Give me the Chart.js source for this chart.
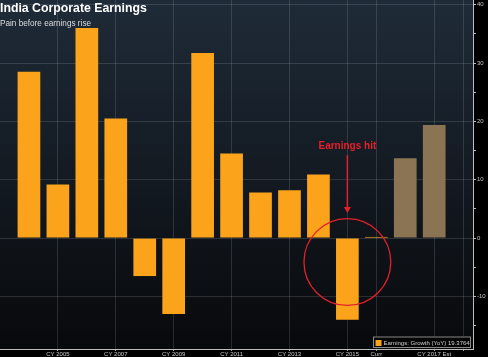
<!DOCTYPE html>
<html><head><meta charset="utf-8">
<script src="https://cdn.jsdelivr.net/npm/chart.js@4/dist/chart.umd.min.js"></script>
<style>
html,body{margin:0;padding:0;background:#000;}
#wrap{position:relative;width:488px;height:357px;overflow:hidden;}
canvas{display:block;}
#title{position:absolute;left:0;top:1px;font:bold 12.3px "Liberation Sans",Arial,sans-serif;color:#fff;white-space:nowrap;}
#sub{position:absolute;left:0;top:19px;font:8.2px "Liberation Sans",Arial,sans-serif;color:#ddd;white-space:nowrap;}
</style></head><body>
<div id="wrap"><canvas id="c" width="488" height="357"></canvas>
<div id="title">India Corporate Earnings</div><div id="sub">Pain before earnings rise</div></div>
<script>
const categories = ['CY 2004','CY 2005','CY 2006','CY 2007','CY 2008','CY 2009','CY 2010','CY 2011','CY 2012','CY 2013','CY 2014','CY 2015','Curr','CY 2016 Est','CY 2017 Est'];
const growth = [28.5, 9.2, 36.0, 20.5, -6.5, -13.0, 31.7, 14.5, 7.8, 8.2, 10.9, -14.0, 0.2, 13.7, 19.3764];
const seriesName = 'Earnings: Growth (YoY)';
const xTickPositions = [1, 3, 5, 7, 9, 11, 12, 14, 15];
const shownLabels = ['CY 2005','CY 2007','CY 2009','CY 2011','CY 2013','CY 2015','Curr','CY 2017 Est',''];
const yTickStep = 5;
const annotationText = 'Earnings hit';
const annotationIndex = 11;

const ORANGE = '#fba31b', TAN = '#8b7453';
const SMALL = '"Liberation Sans",Arial,sans-serif';

const bgPlugin = {
  id: 'bg',
  beforeDraw(chart) {
    const {ctx, chartArea: {left, top, right, bottom}} = chart;
    const g = ctx.createLinearGradient(0, top, 0, bottom);
    g.addColorStop(0, '#1f2b38');
    g.addColorStop(0.5, '#131a22');
    g.addColorStop(1, '#08090b');
    ctx.save(); ctx.fillStyle = g; ctx.fillRect(left, top, right - left, bottom - top); ctx.restore();
  }
};

const annoPlugin = {
  id: 'anno',
  afterDatasetsDraw(chart) {
    const {ctx, scales: {x, y}} = chart;
    const cx = x.getPixelForValue(annotationIndex);
    const red = '#e3202b';
    ctx.save();
    ctx.fillStyle = red; ctx.strokeStyle = red;
    ctx.font = 'bold 10px "Liberation Sans",Arial,sans-serif';
    ctx.textAlign = 'center'; ctx.textBaseline = 'middle';
    ctx.fillText(annotationText, cx, y.getPixelForValue(15.8));
    const y1 = y.getPixelForValue(14.2), y2 = y.getPixelForValue(4.3);
    ctx.lineWidth = 1.5;
    ctx.beginPath(); ctx.moveTo(cx, y1); ctx.lineTo(cx, y2 - 5); ctx.stroke();
    ctx.beginPath(); ctx.moveTo(cx - 3.5, y2 - 6); ctx.lineTo(cx + 3.5, y2 - 6); ctx.lineTo(cx, y2); ctx.closePath(); ctx.fill();
    const r = x.getPixelForValue(annotationIndex + 1.5) - cx;
    ctx.lineWidth = 1.3;
    ctx.beginPath(); ctx.arc(cx, y.getPixelForValue(-4.1), r, 0, Math.PI * 2); ctx.stroke();
    ctx.restore();
  },
  afterDraw(chart) {
    const {ctx, chartArea: {right, bottom}} = chart;
    ctx.save();
    const bx = right - 100, by = bottom - 12.5, bw = 97, bh = 10.5;
    ctx.fillStyle = '#050505'; ctx.fillRect(bx, by, bw, bh);
    ctx.strokeStyle = '#8a8a8a'; ctx.lineWidth = 1; ctx.strokeRect(bx + 0.5, by + 0.5, bw, bh);
    ctx.fillStyle = ORANGE; ctx.fillRect(bx + 2.5, by + 3.5, 6, 6);
    ctx.fillStyle = '#cfcfcf'; ctx.font = '6px ' + SMALL;
    ctx.textBaseline = 'middle'; ctx.textAlign = 'left';
    ctx.fillText(seriesName + ' ' + growth[growth.length - 1], bx + 10.5, by + 6.5);
    ctx.restore();
  }
};

new Chart(document.getElementById('c'), {
  type: 'bar',
  data: {
    datasets: [{
      label: seriesName,
      data: growth.map((v, i) => ({x: i, y: v})),
      backgroundColor: categories.map(c => c.endsWith('Est') ? TAN : ORANGE),
      borderWidth: 0,
      barPercentage: 0.98,
      categoryPercentage: 0.8
    }]
  },
  options: {
    responsive: false,
    animation: false,
    devicePixelRatio: 1,
    layout: {padding: 0},
    plugins: {legend: {display: false}, tooltip: {enabled: false}},
    scales: {
      x: {
        type: 'linear',
        offset: false,
        min: -1.0, max: 15.34,
        afterBuildTicks(s) { s.ticks = xTickPositions.map(v => ({value: v})); },
        afterFit(s) { s.height = 8; s.paddingLeft = 0; s.paddingRight = 0; },
        ticks: {
          autoSkip: false, maxRotation: 0, padding: 0,
          color: '#c8c8c8', font: {family: SMALL, size: 6},
          callback(v) { const k = xTickPositions.indexOf(v); return k >= 0 ? shownLabels[k] : ''; }
        },
        grid: {offset: false, color: 'rgba(200,210,220,0.16)', tickColor: '#9a9a9a', tickLength: 2},
        border: {color: '#bcbcbc', width: 1}
      },
      y: {
        position: 'right',
        min: -19, max: 40.8,
        afterFit(s) { s.width = 15; s.paddingTop = 0; s.paddingBottom = 0; },
        ticks: {
          stepSize: yTickStep, includeBounds: false, padding: 1,
          color: '#c8c8c8', font: {family: SMALL, size: 6},
          callback(v) { return v % 10 === 0 ? String(v) : ''; }
        },
        grid: {
          color: c => (c.tick && c.tick.value % 10 === 0) ? 'rgba(200,210,220,0.16)' : 'rgba(0,0,0,0)',
          tickColor: '#bcbcbc', tickLength: 3
        },
        border: {color: '#bcbcbc', width: 1}
      }
    }
  },
  plugins: [bgPlugin, annoPlugin]
});
</script>
</body></html>
